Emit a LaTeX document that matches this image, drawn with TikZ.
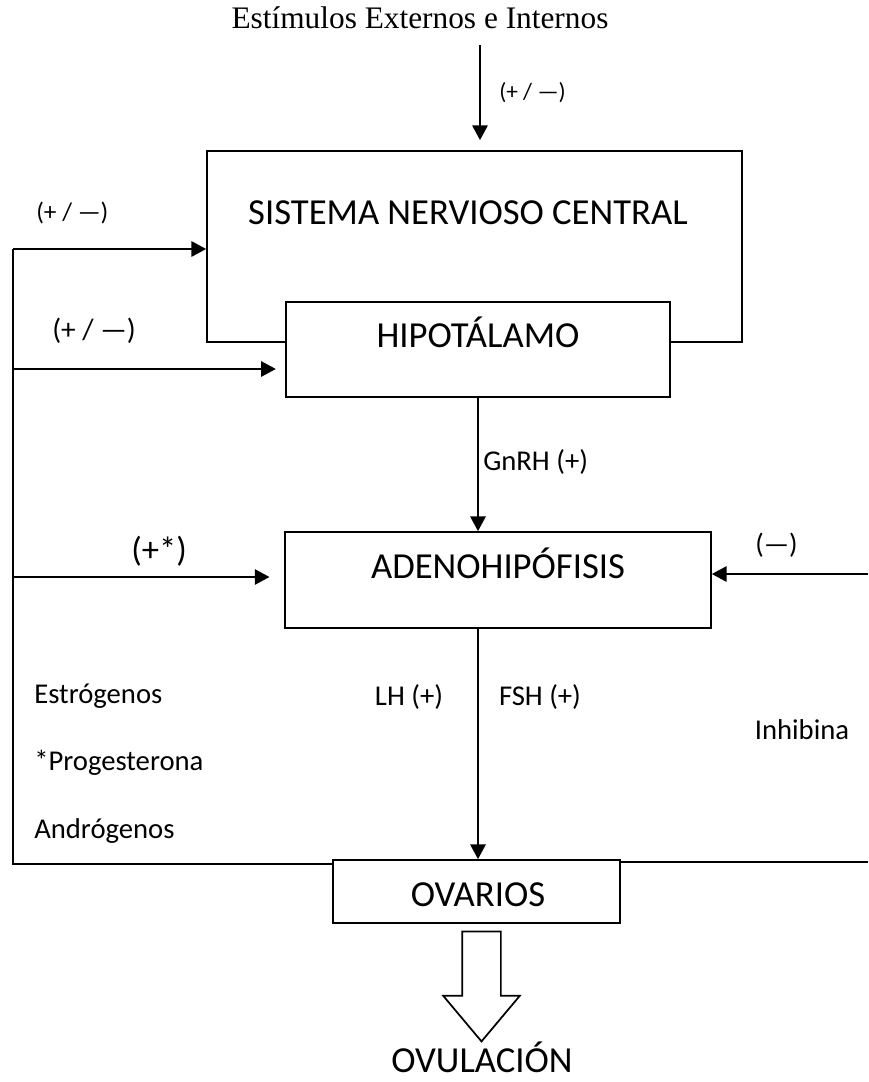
\documentclass[tikz,border=0pt]{standalone}
\usepackage{fontspec}
\setmainfont{Liberation Serif}
\newfontfamily\calibri{Carlito}
\usetikzlibrary{arrows.meta,shapes.arrows,fit,positioning,calc}

\begin{document}
\begin{tikzpicture}[x=0.75pt,y=-0.75pt]
\tikzset{BOX/.style={draw,line width=1.3pt,fill=white,inner sep=0pt}}
\tikzset{ORGAN/.style={font=\calibri\fontsize{27.5}{30}\selectfont,inner sep=0pt,anchor=base}}
\tikzset{HORMONE/.style={font=\calibri\fontsize{21.5}{24}\selectfont,inner sep=0pt,anchor=base}}
\tikzset{EFFECT/.style={font=\calibri\fontsize{#1}{24}\selectfont,inner sep=0pt,anchor=base west}}
\tikzset{LINE/.style={draw,line width=1.3pt}}
\tikzset{SIGNAL/.style={LINE,-{Triangle[length=11pt,width=11.5pt]}}}
\tikzset{BLOCK ARROW/.style={draw,line width=1.3pt,single arrow,single arrow head extend=14.25pt,single arrow tip angle=80,minimum height=82.5pt,inner sep=13.875pt,shape border rotate=270}}

\useasboundingbox (0,0) rectangle (868,1082);

\node[font=\fontsize{23.5}{26}\selectfont,inner sep=0pt,anchor=base] (estimulos) at (420,28) {Estímulos Externos e Internos};

\node[BOX,fit={(207,151) (742,342)}] (snc) {};
\node[ORGAN] (snc text) at (468,224) {SISTEMA NERVIOSO CENTRAL};
\node[BOX,fit={(286,302) (670,397)}] (hipotalamo) {};
\node[ORGAN] (hipotalamo text) at (478,347) {HIPOTÁLAMO};
\node[BOX,fit={(285,532) (711,628)}] (adeno) {};
\node[ORGAN] (adeno text) at (498,578) {ADENOHIPÓFISIS};
\node[BOX,fit={(333,860) (620,923)}] (ovarios) {};
\node[ORGAN] (ovarios text) at (478,906) {OVARIOS};
\node[BLOCK ARROW,below=5pt of ovarios.south,xshift=3.75pt] (ovulacion arrow) {};
\node[ORGAN] (ovulacion) at (482,1072) {OVULACIÓN};

\coordinate (stimulus) at (480,45);
\coordinate (feedback top) at (13,249);
\coordinate (to hipotalamo) at (13,369);
\coordinate (to adeno) at (13,577);
\coordinate (feedback bottom) at (13,864);
\coordinate (inhibina top) at (868,574);
\coordinate (inhibina bottom) at (868,862);

\path[SIGNAL,shorten >=7.5pt] (stimulus) -- (stimulus |- snc.north);
\path[SIGNAL] (hipotalamo.south) -- (hipotalamo.south |- adeno.north);
\path[SIGNAL] (hipotalamo.south |- adeno.south) -- (hipotalamo.south |- ovarios.north);

\path[LINE] (feedback top) -- (feedback bottom) -- (feedback bottom -| ovarios.west);
\path[SIGNAL] (feedback top) -- (feedback top -| snc.west);
\path[SIGNAL,shorten >=7pt] (to hipotalamo) -- (to hipotalamo -| hipotalamo.west);
\path[SIGNAL,shorten >=11pt] (to adeno) -- (to adeno -| adeno.west);

\path[LINE] (ovarios.east |- inhibina bottom) -- (inhibina bottom);
\path[SIGNAL] (inhibina top) -- (inhibina top -| adeno.east);

\node[EFFECT=17.5] (stimulus sign) at (499,99) {(+ / —)};
\node[EFFECT=19] (snc sign) at (36,220) {(+ / —)};
\node[EFFECT=22] (hipotalamo sign) at (52,339) {(+ / —)};
\node[EFFECT=26] (adeno sign) at (131,561) {(+*)};
\node[EFFECT=21] (inhibina sign) at (755,553) {(—)};

\node[HORMONE,anchor=base west] (gnrh) at (483,470) {GnRH (+)};
\node[HORMONE] (lh) at (409,705) {LH (+)};
\node[HORMONE] (fsh) at (540,705) {FSH (+)};
\node[HORMONE,anchor=base west] (estrogenos) at (34,703) {Estrógenos};
\node[HORMONE,anchor=base west] (progesterona) at (34,770) {*Progesterona};
\node[HORMONE,anchor=base west] (androgenos) at (34,838) {Andrógenos};
\node[HORMONE] (inhibina) at (802,739) {Inhibina};

\end{tikzpicture}
\end{document}
